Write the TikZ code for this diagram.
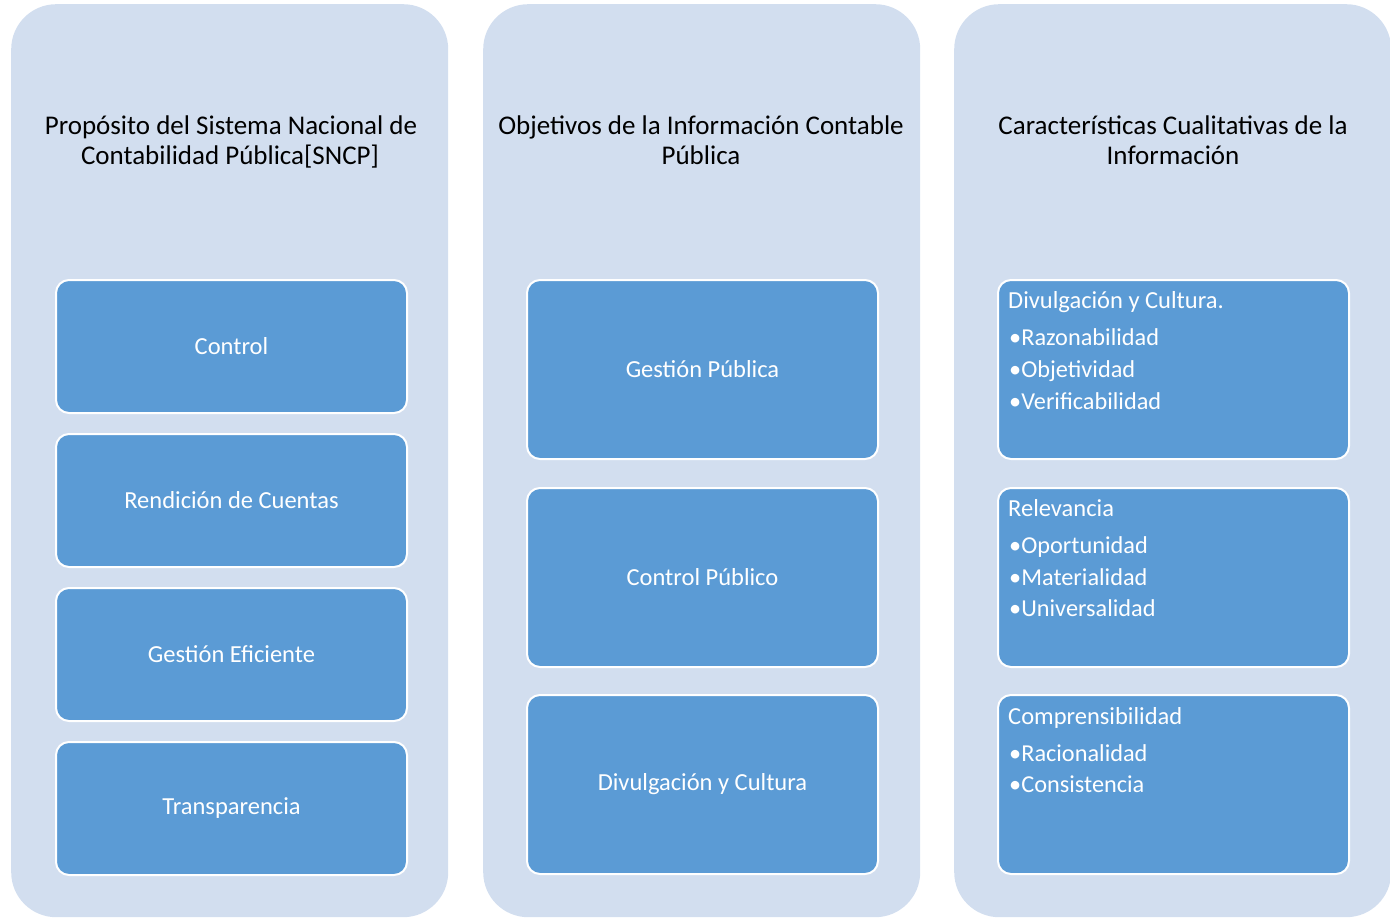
\documentclass[tikz,border=0pt]{standalone}
\usepackage{fontspec}
\setmainfont{Carlito}
\definecolor{panelblue}{HTML}{D2DEEF}
\definecolor{boxblue}{HTML}{5B9BD5}
\begin{document}
\begin{tikzpicture}[x=1pt,y=-1pt,
  panel/.style={fill=panelblue, draw=none, rounded corners=45pt, minimum width=437pt, minimum height=913pt, inner sep=0pt, anchor=north west},
  inbox/.style={fill=boxblue, draw=white, line width=2pt, rounded corners=13pt, minimum width=351pt, inner sep=0pt, anchor=north west},
  lbl/.style={text=white, inner sep=0pt, font=\fontsize{24.5}{29}\selectfont},
  title/.style={anchor=base, font=\fontsize{27}{32}\selectfont, text=black, inner sep=0pt},
  head/.style={anchor=base west, inner sep=0pt, text=white, font=\fontsize{24.5}{29}\selectfont},
  item/.style={anchor=base west, inner sep=0pt, text=white, font=\fontsize{24.3}{29}\selectfont}
]
\useasboundingbox (0,0) rectangle (1390,918);
\begin{scope}
\clip (0,0) rectangle (1390,918);
% panels
\node[panel] (p1) at (11,4) {};
\node[panel] (p2) at (483,4) {};
\node[panel] (p3) at (954,4) {};
\end{scope}
% titles
\node[title] (t1a) at (231,134) {Propósito del Sistema Nacional de};
\node[title] (t1b) at (230,164) {Contabilidad Pública[SNCP]};
\node[title] (t2a) at (701,134) {Objetivos de la Información Contable};
\node[title] (t2b) at (701,164) {Pública};
\node[title] (t3a) at (1173,134) {Características Cualitativas de la};
\node[title] (t3b) at (1173,164) {Información};
% column 1
\node[inbox, minimum height=133pt] (a1) at (55,279) {};
\node[inbox, minimum height=133pt] (a2) at (55,433) {};
\node[inbox, minimum height=133pt] (a3) at (55,587) {};
\node[inbox, minimum height=133pt] (a4) at (55,741) {};
\node[lbl] (la1) at (a1.center) {Control};
\node[lbl] (la2) at (a2.center) {Rendición de Cuentas};
\node[lbl] (la3) at (a3.center) {Gestión Eficiente};
\node[lbl] (la4) at (a4.center) {Transparencia};
% column 2
\node[inbox, minimum height=179pt] (b1) at (526,279) {};
\node[inbox, minimum height=179pt] (b2) at (526,487) {};
\node[inbox, minimum height=179pt] (b3) at (526,694) {};
\node[lbl] (lb1) at (b1.center) {Gestión Pública};
\node[lbl] (lb2) at (b2.center) {Control Público};
\node[lbl] (lb3) at (b3.center) {Divulgación y Cultura};
% column 3
\node[inbox, minimum height=179pt] (c1) at (997,279) {};
\node[inbox, minimum height=179pt] (c2) at (997,487) {};
\node[inbox, minimum height=179pt] (c3) at (997,694) {};
\node[head] (h1) at (1008,308) {Divulgación y Cultura.};
\node[item] (i11) at (1009,345) {•Razonabilidad};
\node[item] (i12) at (1009,377) {•Objetividad};
\node[item] (i13) at (1009,409) {•Verificabilidad};
\node[head] (h2) at (1008,516) {Relevancia};
\node[item] (i21) at (1009,553) {•Oportunidad};
\node[item] (i22) at (1009,585) {•Materialidad};
\node[item] (i23) at (1009,616) {•Universalidad};
\node[head] (h3) at (1008,724) {Comprensibilidad};
\node[item] (i31) at (1009,761) {•Racionalidad};
\node[item] (i32) at (1009,792) {•Consistencia};
\end{tikzpicture}
\end{document}
